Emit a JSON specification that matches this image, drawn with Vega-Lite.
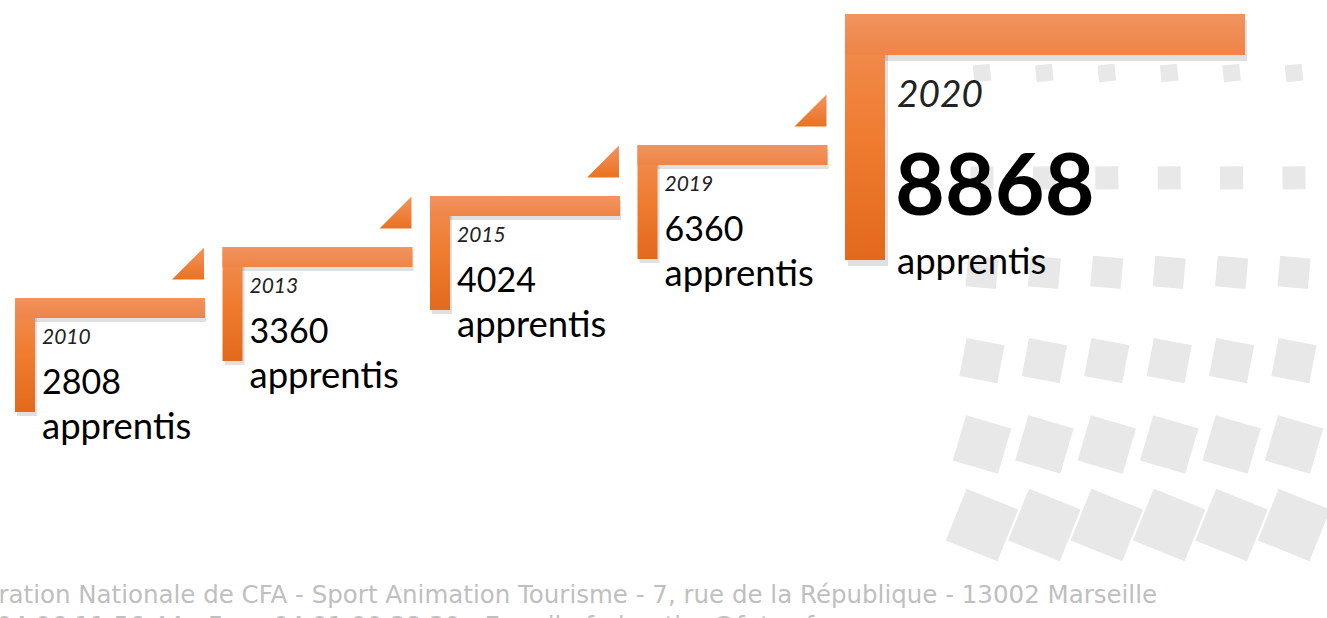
{
  "$schema": "https://vega.github.io/schema/vega-lite/v6.json",
  "width": 1327,
  "height": 618,
  "padding": 0,
  "autosize": {"type": "none"},
  "background": "white",
  "config": {"view": {"stroke": null}},
  "title": {
    "text": [
      "Fédération Nationale de CFA - Sport Animation Tourisme - 7, rue de la République - 13002 Marseille",
      "Tél : 04 96 11 56 44 - Fax : 04 91 90 38 30 - E-mail : federation@fntsa.fr"
    ],
    "orient": "bottom",
    "anchor": "start",
    "frame": "group",
    "dx": -60,
    "offset": -15,
    "baseline": "alphabetic",
    "font": "DejaVu Sans",
    "fontSize": 24.5,
    "fontWeight": "normal",
    "color": "#bfbfbf",
    "lineHeight": 31
  },
  "resolve": {"scale": {"x": "independent", "y": "independent"}},
  "layer": [
    {
      "data": {
        "values": [
          {"rangee": 1, "colonne": 1}, {"rangee": 1, "colonne": 2}, {"rangee": 1, "colonne": 3}, {"rangee": 1, "colonne": 4}, {"rangee": 1, "colonne": 5}, {"rangee": 1, "colonne": 6},
          {"rangee": 2, "colonne": 1}, {"rangee": 2, "colonne": 2}, {"rangee": 2, "colonne": 3}, {"rangee": 2, "colonne": 4}, {"rangee": 2, "colonne": 5}, {"rangee": 2, "colonne": 6},
          {"rangee": 3, "colonne": 1}, {"rangee": 3, "colonne": 2}, {"rangee": 3, "colonne": 3}, {"rangee": 3, "colonne": 4}, {"rangee": 3, "colonne": 5}, {"rangee": 3, "colonne": 6},
          {"rangee": 4, "colonne": 1}, {"rangee": 4, "colonne": 2}, {"rangee": 4, "colonne": 3}, {"rangee": 4, "colonne": 4}, {"rangee": 4, "colonne": 5}, {"rangee": 4, "colonne": 6},
          {"rangee": 5, "colonne": 1}, {"rangee": 5, "colonne": 2}, {"rangee": 5, "colonne": 3}, {"rangee": 5, "colonne": 4}, {"rangee": 5, "colonne": 5}, {"rangee": 5, "colonne": 6},
          {"rangee": 6, "colonne": 1}, {"rangee": 6, "colonne": 2}, {"rangee": 6, "colonne": 3}, {"rangee": 6, "colonne": 4}, {"rangee": 6, "colonne": 5}, {"rangee": 6, "colonne": 6}
        ]
      },
      "mark": {"type": "point", "shape": "square", "filled": true, "color": "#e8e8e8", "opacity": 1, "strokeWidth": 0},
      "encoding": {
        "x": {"field": "colonne", "type": "quantitative", "axis": null, "scale": {"domain": [1, 6], "range": [982, 1294], "zero": false, "nice": false}},
        "y": {"field": "rangee", "type": "quantitative", "axis": null, "scale": {"type": "pow", "exponent": 0.8, "domain": [1, 6], "range": [73, 525], "zero": false, "nice": false}},
        "size": {"field": "rangee", "type": "quantitative", "legend": null, "scale": {"type": "pow", "exponent": 2, "domain": [1, 6], "range": [289, 3100]}},
        "angle": {"field": "rangee", "type": "quantitative", "scale": {"domain": [1, 6], "range": [-6, 22]}}
      }
    },
    {
      "data": {
        "values": [
          {"annee": 2010, "apprentis": 2808},
          {"annee": 2013, "apprentis": 3360},
          {"annee": 2015, "apprentis": 4024},
          {"annee": 2019, "apprentis": 6360},
          {"annee": 2020, "apprentis": 8868}
        ]
      },
      "transform": [{"window": [{"op": "row_number", "as": "rang"}], "sort": [{"field": "annee"}]}],
      "encoding": {
        "x": {"field": "rang", "type": "quantitative", "axis": null, "scale": {"domain": [1, 5], "range": [15, 845], "zero": false, "nice": false}},
        "y": {"field": "rang", "type": "quantitative", "axis": null, "scale": {"domain": [1, 5], "range": [298, 94], "zero": false, "nice": false}}
      },
      "layer": [
        {
          "transform": [{"filter": "datum.rang <= 4"}],
          "layer": [
            {"mark": {"type": "rect", "fill": "#000000", "fillOpacity": 0.12, "xOffset": 2, "x2Offset": 191, "yOffset": 4, "y2Offset": 24}, "encoding": {"x2": {"field": "rang"}, "y2": {"field": "rang"}}},
            {"mark": {"type": "rect", "fill": "#000000", "fillOpacity": 0.12, "xOffset": 2, "x2Offset": 22, "yOffset": 4, "y2Offset": 118}, "encoding": {"x2": {"field": "rang"}, "y2": {"field": "rang"}}},
            {"mark": {"type": "rect", "x2Offset": 20, "y2Offset": 114, "fill": {"gradient": "linear", "x1": 0, "y1": 0, "x2": 0, "y2": 1, "stops": [{"offset": 0, "color": "#f28f57"}, {"offset": 0.5, "color": "#ef7c2f"}, {"offset": 1, "color": "#e3691b"}]}}, "encoding": {"x2": {"field": "rang"}, "y2": {"field": "rang"}}},
            {"mark": {"type": "rect", "x2Offset": 190, "y2Offset": 20, "fill": {"gradient": "linear", "x1": 0, "y1": 0, "x2": 0, "y2": 1, "stops": [{"offset": 0, "color": "#f29361"}, {"offset": 1, "color": "#ef8445"}]}}, "encoding": {"x2": {"field": "rang"}, "y2": {"field": "rang"}}},
            {"mark": {"type": "point", "shape": "M1,1L1,-1L-1,1Z", "size": 1024, "filled": true, "opacity": 1, "strokeWidth": 0, "xOffset": 173, "yOffset": -34.5, "fill": {"gradient": "linear", "x1": 0, "y1": 0, "x2": 0, "y2": 1, "stops": [{"offset": 0, "color": "#f39460"}, {"offset": 1, "color": "#e9721f"}]}}, "encoding": {}},
            {"mark": {"type": "text", "align": "left", "baseline": "alphabetic", "dx": 27, "dy": 46, "font": "Lato", "fontStyle": "italic", "fontSize": 21, "color": "#222222"}, "encoding": {"text": {"field": "annee", "type": "nominal"}}},
            {"mark": {"type": "text", "align": "left", "baseline": "alphabetic", "dx": 27, "dy": 96, "font": "Lato", "fontSize": 34, "color": "#000000"}, "encoding": {"text": {"field": "apprentis", "type": "quantitative", "format": "d"}}},
            {"mark": {"type": "text", "align": "left", "baseline": "alphabetic", "dx": 27, "dy": 141, "font": "Lato", "fontSize": 36.5, "color": "#000000", "text": "apprentis"}, "encoding": {}}
          ]
        },
        {
          "transform": [{"filter": "datum.rang == 5"}],
          "layer": [
            {"mark": {"type": "rect", "fill": "#000000", "fillOpacity": 0.12, "xOffset": 3, "x2Offset": 402, "yOffset": -74, "y2Offset": -33}, "encoding": {"x2": {"field": "rang"}, "y2": {"field": "rang"}}},
            {"mark": {"type": "rect", "fill": "#000000", "fillOpacity": 0.12, "xOffset": 3, "x2Offset": 43, "yOffset": -74, "y2Offset": 172}, "encoding": {"x2": {"field": "rang"}, "y2": {"field": "rang"}}},
            {"mark": {"type": "rect", "x2Offset": 40, "yOffset": -80, "y2Offset": 166, "fill": {"gradient": "linear", "x1": 0, "y1": 0, "x2": 0, "y2": 1, "stops": [{"offset": 0, "color": "#f28f57"}, {"offset": 0.5, "color": "#ef7c2f"}, {"offset": 1, "color": "#e3691b"}]}}, "encoding": {"x2": {"field": "rang"}, "y2": {"field": "rang"}}},
            {"mark": {"type": "rect", "x2Offset": 400, "yOffset": -80, "y2Offset": -39, "fill": {"gradient": "linear", "x1": 0, "y1": 0, "x2": 0, "y2": 1, "stops": [{"offset": 0, "color": "#f29361"}, {"offset": 1, "color": "#ef8445"}]}}, "encoding": {"x2": {"field": "rang"}, "y2": {"field": "rang"}}},
            {"mark": {"type": "text", "align": "left", "baseline": "alphabetic", "dx": 52, "dy": 13, "font": "Lato", "fontStyle": "italic", "fontSize": 37, "color": "#222222"}, "encoding": {"text": {"field": "annee", "type": "nominal"}}},
            {"mark": {"type": "text", "align": "left", "baseline": "alphabetic", "dx": 50, "dy": 121, "font": "Lato", "fontWeight": "bold", "fontSize": 86, "color": "#000000"}, "encoding": {"text": {"field": "apprentis", "type": "quantitative", "format": "d"}}},
            {"mark": {"type": "text", "align": "left", "baseline": "alphabetic", "dx": 52, "dy": 180, "font": "Lato", "fontSize": 36.5, "color": "#000000", "text": "apprentis"}, "encoding": {}}
          ]
        }
      ]
    }
  ]
}
